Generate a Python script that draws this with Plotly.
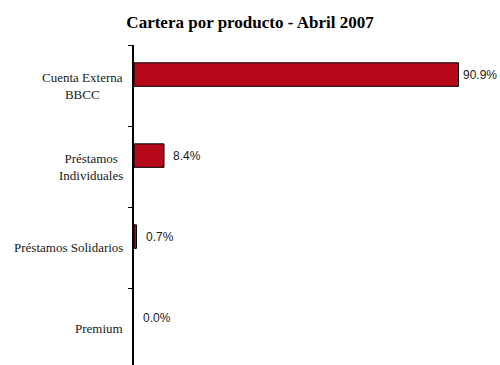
import plotly.graph_objects as go

# Portfolio share by product, April 2007 (percent)
categories = ["Cuenta Externa BBCC", "Préstamos Individuales", "Préstamos Solidarios", "Premium"]
tick_labels = ["Cuenta Externa<br>BBCC", "Préstamos<br>Individuales", "Préstamos Solidarios", "Premium"]
shares = [90.9, 8.4, 0.7, 0.0]

BAR_COLOR = "#B5091A"
TEXT_COLOR = "#1a1a1a"
SERIF = "Liberation Serif, Times New Roman, serif"
SANS = "Liberation Sans, Arial, sans-serif"

BAR_OFFSET = -0.28
BAR_WIDTH = 0.29
label_shift = [2, 7, 7, 7]

# no outline on empty bars
outline_widths = [1 if v > 0 else 0 for v in shares]

fig = go.Figure()
fig.add_trace(go.Bar(
    x=shares,
    y=categories,
    orientation="h",
    offset=BAR_OFFSET,
    width=BAR_WIDTH,
    marker=dict(color=BAR_COLOR, line=dict(color="#000000", width=outline_widths)),
    hoverinfo="skip",
))

annotations = []
# value labels beside each bar
for i, (v, dx) in enumerate(zip(shares, label_shift)):
    annotations.append(dict(
        x=v, y=i + BAR_OFFSET + BAR_WIDTH / 2, xref="x", yref="y",
        text=f"{v:.1f}%", showarrow=False, xanchor="left", yanchor="middle",
        xshift=dx, font=dict(family=SANS, size=12, color=TEXT_COLOR),
    ))
# category labels, centred per line, left of the axis
for i, lab in enumerate(tick_labels):
    annotations.append(dict(
        x=0, y=i, xref="paper", yref="y",
        text=lab, showarrow=False, xanchor="right", yanchor="middle",
        align="center", xshift=-9,
        font=dict(family=SERIF, size=13, color=TEXT_COLOR),
    ))

fig.update_layout(
    width=500, height=365,
    margin=dict(l=134, r=9, t=45, b=0),
    paper_bgcolor="white", plot_bgcolor="white",
    showlegend=False,
    title=dict(
        text="<b>Cartera por producto - Abril 2007</b>",
        x=0.5, xref="container", xanchor="center",
        y=1 - 22 / 365, yref="container", yanchor="middle",
        font=dict(family=SERIF, size=17, color="#000000"),
    ),
    xaxis=dict(range=[0, 100], visible=False, fixedrange=True),
    yaxis=dict(
        type="category",
        categoryorder="array", categoryarray=categories,
        range=[3.45, -0.5],
        showticklabels=False,
        showline=True, linecolor="#000000", linewidth=1.5,
        ticks="outside", ticklen=4, tickcolor="#000000", tickwidth=1,
        tickson="boundaries",
        showgrid=False, zeroline=False, fixedrange=True,
    ),
    annotations=annotations,
)

fig.write_html("out.html")
